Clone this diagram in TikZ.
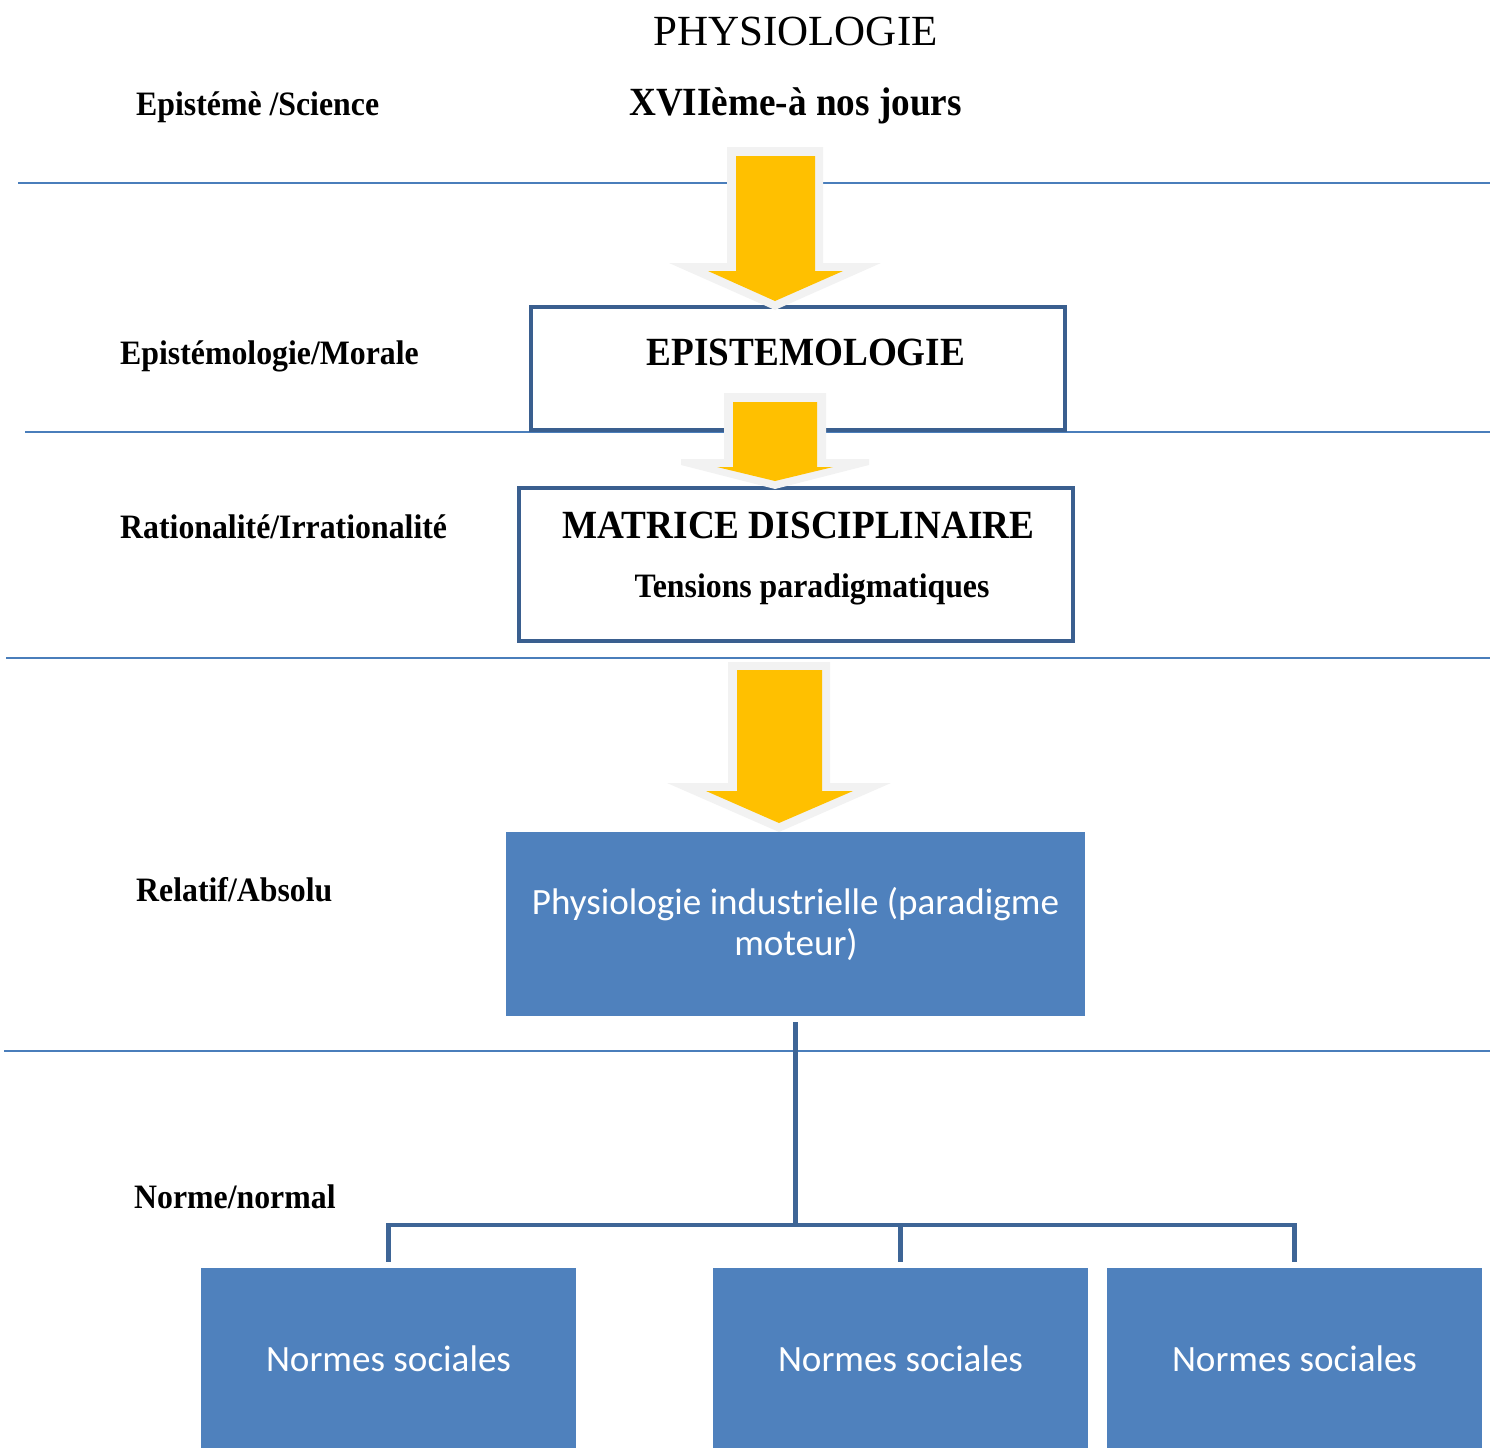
\documentclass[tikz,border=0pt]{standalone}
\usepackage{fontspec}
\setmainfont{Liberation Serif}[BoldFeatures={FakeStretch=0.93}]
\newfontfamily\carlito{Carlito}
\definecolor{rulec}{HTML}{4A7EBB}
\definecolor{boxline}{HTML}{3A5F8F}
\definecolor{fillc}{HTML}{4F81BD}
\definecolor{connc}{HTML}{3E6596}
\definecolor{arrowy}{HTML}{FFC000}
\definecolor{arrowg}{HTML}{F2F2F2}
\begin{document}
\begin{tikzpicture}[x=1pt,y=-1pt,
  rulel/.style={draw=rulec, line width=2pt},
  outbox/.style={draw=boxline, line width=4pt, fill=white, inner sep=0pt},
  fillbox/.style={fill=fillc, draw=none, inner sep=0pt},
  lab/.style={anchor=base west, inner sep=0pt, font=\fontsize{34.2}{40}\selectfont\bfseries},
  headt/.style={anchor=base, inner sep=0pt, font=\fontsize{40}{46}\selectfont\bfseries},
  subt/.style={anchor=base, inner sep=0pt, font=\fontsize{34.2}{40}\selectfont\bfseries},
  boxtxt/.style={anchor=base, inner sep=0pt, text=white, font=\carlito\fontsize{37.1}{44}\selectfont},
  connl/.style={draw=connc, line width=4.5pt},
  agray/.style={fill=arrowg},
  ayel/.style={fill=arrowy}]
\useasboundingbox (0,0) rectangle (1490,1448);
% horizontal rules
\draw[rulel] (18,183) -- (1490,183);
\draw[rulel] (25,432) -- (1490,432);
\draw[rulel] (6,658) -- (1490,658);
\draw[rulel] (4,1051) -- (1490,1051);
% boxes
\node[outbox, minimum width=534pt, minimum height=123pt] (epbox) at (798,368.5) {};
\node[outbox, minimum width=554pt, minimum height=153pt] (matbox) at (796,564.5) {};
\node[fillbox, minimum width=579pt, minimum height=184pt] (phys) at (795.5,924) {};
\node[fillbox, minimum width=375pt, minimum height=180pt] (n1) at (388.5,1358) {};
\node[fillbox, minimum width=375pt, minimum height=180pt] (n2) at (900.5,1358) {};
\node[fillbox, minimum width=375pt, minimum height=180pt] (n3) at (1294.5,1358) {};
% connectors
\coordinate (bus) at (0,1225);
\draw[connl] ([yshift=-6pt]phys.south) -- (phys.south |- bus);
\draw[connl] ([yshift=6pt]n1.north) -- (n1.north |- bus) -- (n3.north |- bus) -- ([yshift=6pt]n3.north);
\draw[connl] (n2.north |- bus) -- ([yshift=6pt]n2.north);
% block arrows
\fill[agray] (727,147) -- (823,147) -- (823,263) -- (881,263) -- (775,310) -- (669,263) -- (727,263) -- cycle;
\fill[ayel] (736,156) -- (815,156) -- (815,271) -- (843,271) -- (775,301) -- (708,271) -- (736,271) -- cycle;
\fill[agray] (724,393) -- (826,393) -- (826,459) -- (869,459) -- (869,465) -- (775,489) -- (681,465) -- (681,459) -- (724,459) -- cycle;
\fill[ayel] (733,402) -- (817,402) -- (817,467) -- (833,467) -- (775,481) -- (717,467) -- (733,467) -- cycle;
\fill[agray] (728,662) -- (830,662) -- (830,783) -- (891,783) -- (779,832) -- (667,783) -- (728,783) -- cycle;
\fill[ayel] (737,670) -- (822,670) -- (822,791) -- (853,791) -- (779,823) -- (706,791) -- (737,791) -- cycle;
% texts
\node[anchor=base, inner sep=0pt, font=\fontsize{43}{50}\selectfont] (title) at (795.5,45) {PHYSIOLOGIE};
\node[lab] (l1) at (136,115) {Epistémè /Science};
\node[headt] (date) at (795.5,115) {XVIIème-à nos jours};
\node[lab] (l2) at (120,364) {Epistémologie/Morale};
\node[headt] (eptxt) at (806,365) {EPISTEMOLOGIE};
\node[lab] (l3) at (120,538) {Rationalité/Irrationalité};
\node[headt] (mattxt) at (798.5,538) {MATRICE DISCIPLINAIRE};
\node[subt] (tens) at (812,597) {Tensions paradigmatiques};
\node[lab] (l4) at (136,901) {Relatif/Absolu};
\node[lab] (l5) at (134,1208) {Norme/normal};
\node[boxtxt] (p1) at (795.5,914) {Physiologie industrielle (paradigme};
\node[boxtxt] (p2) at (796,955) {moteur)};
\node[boxtxt] (t1) at (388.5,1371) {Normes sociales};
\node[boxtxt] (t2) at (900.5,1371) {Normes sociales};
\node[boxtxt] (t3) at (1294.5,1371) {Normes sociales};
\end{tikzpicture}
\end{document}
